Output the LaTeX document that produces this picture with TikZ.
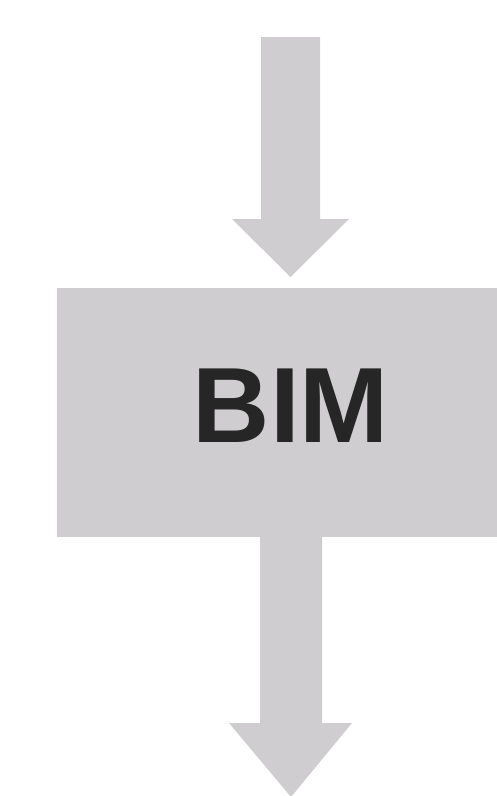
\documentclass[tikz,border=0pt]{standalone}
\usepackage{fontspec}
\setmainfont{Liberation Sans}
\usetikzlibrary{positioning}

\definecolor{boxgray}{RGB}{207,205,207}
\definecolor{textdark}{RGB}{38,38,38}

\begin{document}
\begin{tikzpicture}[x=1pt, y=-1pt,
    bimbox/.style={rectangle, fill=boxgray, draw=none, minimum width=440pt, minimum height=249pt, inner sep=0pt},
    bimtext/.style={text=textdark, font=\fontsize{107}{107}\selectfont\bfseries, inner sep=0pt},
    blockarrow/.style={fill=boxgray, draw=none}]

    % 1. Obszar rysunku
    \useasboundingbox (0,0) rectangle (497,796);

    % 2. Blok BIM
    \node[bimbox] (bim) at (277,412.5) {};
    \node[bimtext, anchor=base] (bimlabel) at (291,442) {BIM};

    % 3. Strzałka wejściowa (od góry do bloku)
    \coordinate (intop) at (290.5,37);
    \coordinate (intip) at (290.5,277);
    \fill[blockarrow] (261,37) -- (320,37) -- (320,219) -- (349,219)
        -- (intip) -- (232,219) -- (261,219) -- cycle;

    % 4. Strzałka wyjściowa (z bloku w dół)
    \coordinate (outtip) at (291,797);
    \fill[blockarrow] (260,537) -- (322,537) -- (322,723) -- (352,723)
        -- (outtip) -- (229,723) -- (260,723) -- cycle;

\end{tikzpicture}
\end{document}
